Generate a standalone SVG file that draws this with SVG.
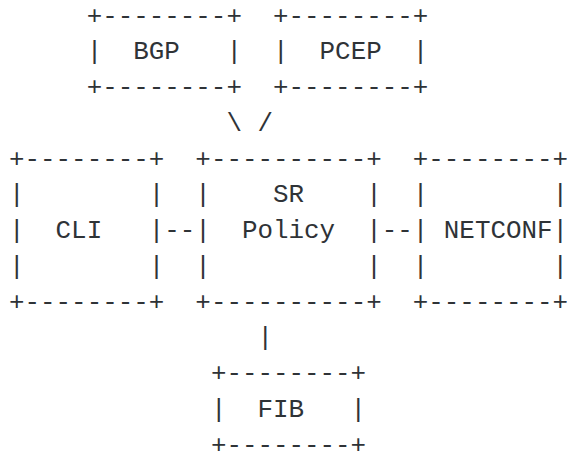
<svg xmlns="http://www.w3.org/2000/svg" width="567" height="453" viewBox="0 0 567 453" xml:space="preserve">
<style>
text { font-family: "Liberation Mono", "DejaVu Sans Mono", monospace; font-size: 25.88px; fill: #2f3337; white-space: pre; }
</style>
<rect x="0" y="0" width="567" height="453" fill="#ffffff"/>
<g id="connectors">
<text x="226.42" y="130.75">\ /</text>
<text x="164.3" y="238">--</text>
<text x="381.72" y="238">--</text>
<text x="257.48" y="345.25">|</text>
</g>
<g id="bgp">
<text x="86.65" y="23.5">+--------+</text>
<text x="86.65" y="59.25">|  BGP   |</text>
<text x="86.65" y="95">+--------+</text>
</g>
<g id="pcep">
<text x="273.01" y="23.5">+--------+</text>
<text x="273.01" y="59.25">|  PCEP  |</text>
<text x="273.01" y="95">+--------+</text>
</g>
<g id="cli">
<text x="9" y="166.5">+--------+</text>
<text x="9" y="202.25">|        |</text>
<text x="9" y="238">|  CLI   |</text>
<text x="9" y="273.75">|        |</text>
<text x="9" y="309.5">+--------+</text>
</g>
<g id="sr-policy">
<text x="195.36" y="166.5">+----------+</text>
<text x="195.36" y="202.25">|    SR    |</text>
<text x="195.36" y="238">|  Policy  |</text>
<text x="195.36" y="273.75">|          |</text>
<text x="195.36" y="309.5">+----------+</text>
</g>
<g id="netconf">
<text x="412.78" y="166.5">+--------+</text>
<text x="412.78" y="202.25">|        |</text>
<text x="412.78" y="238">| NETCONF|</text>
<text x="412.78" y="273.75">|        |</text>
<text x="412.78" y="309.5">+--------+</text>
</g>
<g id="fib">
<text x="210.89" y="381">+--------+</text>
<text x="210.89" y="416.75">|  FIB   |</text>
<text x="210.89" y="452.5">+--------+</text>
</g>
</svg>
